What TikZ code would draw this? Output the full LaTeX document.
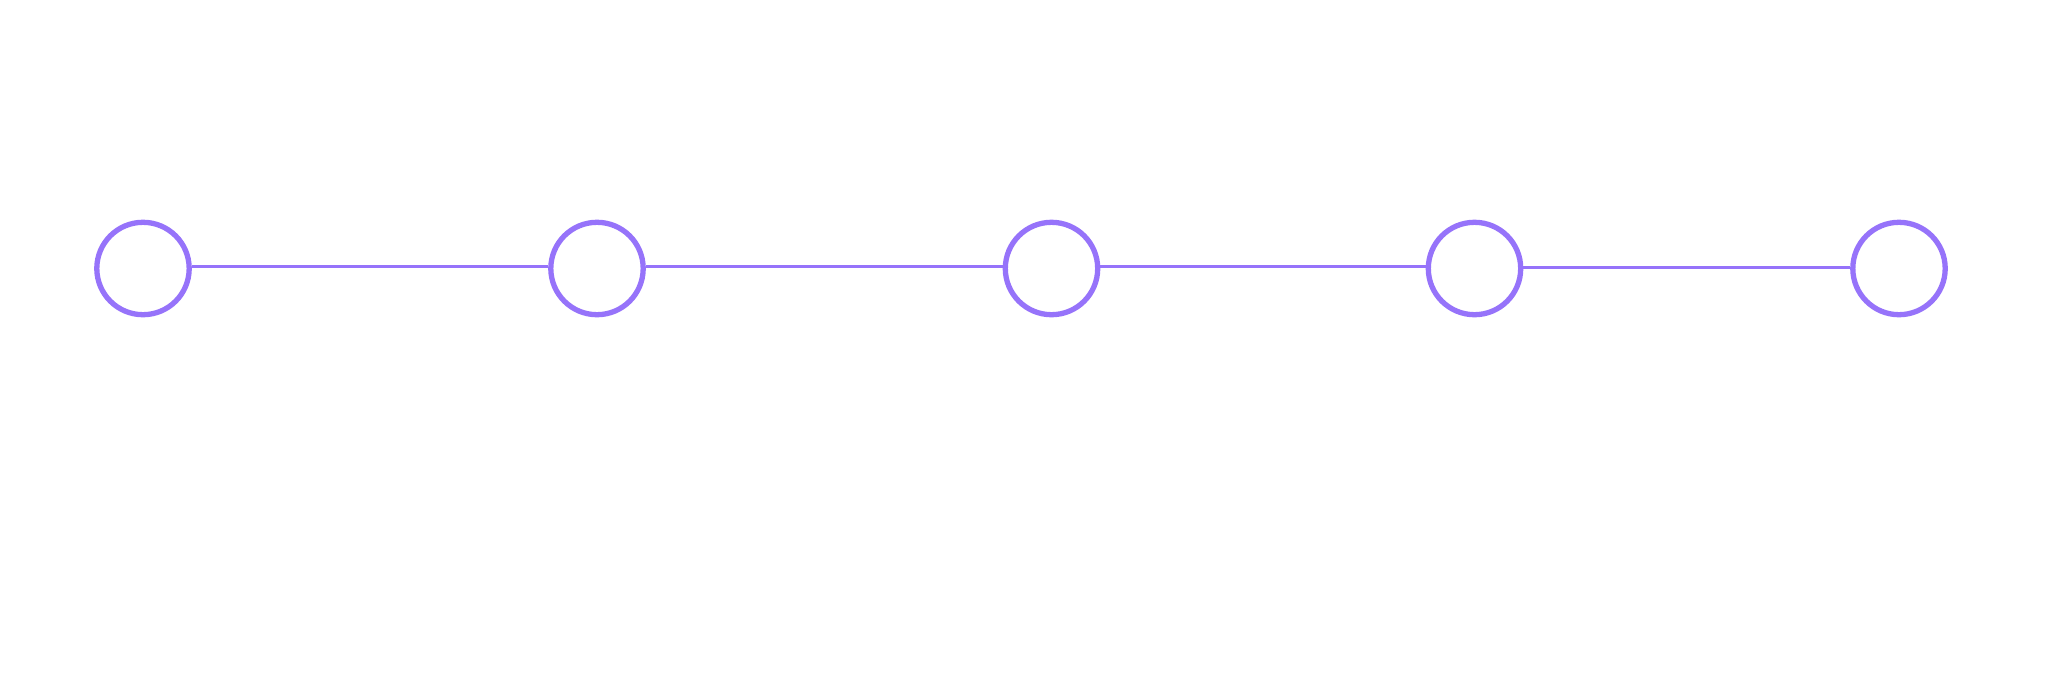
\documentclass[tikz,border=0pt]{standalone}
\definecolor{lav}{RGB}{150,115,250}
\begin{document}
\begin{tikzpicture}[x=1pt,y=-1pt,
  stop/.style={circle,draw=lav,line width=5.3pt,inner sep=0pt,minimum size=92.4pt,fill=white},
  link/.style={draw=lav,line width=3pt}]
\useasboundingbox (0,0) rectangle (2068,699);
\node[stop] (c1) at (143,268.5) {};
\node[stop] (c2) at (597,268.5) {};
\node[stop] (c3) at (1051.5,268.5) {};
\node[stop] (c4) at (1474.5,268.5) {};
\node[stop] (c5) at (1899,268.5) {};
\draw[link] ([yshift=2pt]c1.east) -- ([yshift=2pt]c2.west);
\draw[link] ([yshift=2pt]c2.east) -- ([yshift=2pt]c3.west);
\draw[link] ([yshift=2pt]c3.east) -- ([yshift=2pt]c4.west);
\draw[link] ([yshift=1.5pt]c4.east) -- ([yshift=1.5pt]c5.west);
\end{tikzpicture}
\end{document}
